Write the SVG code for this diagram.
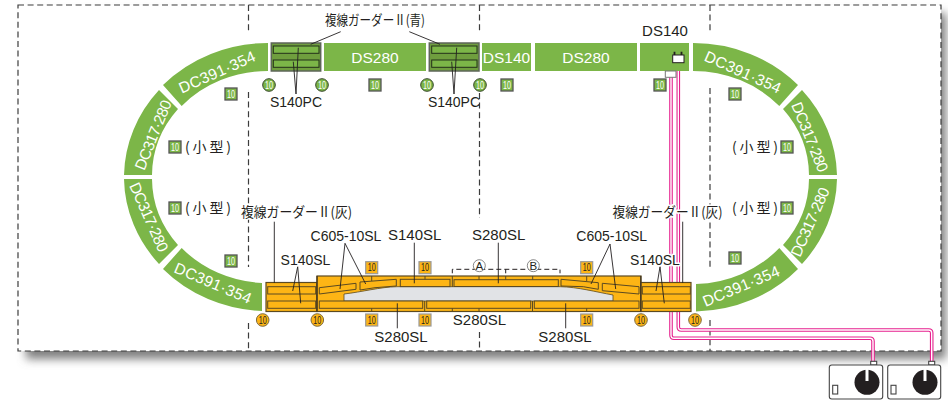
<svg xmlns="http://www.w3.org/2000/svg" width="948" height="401" viewBox="0 0 948 401">
<style>
text{font-family:"Liberation Sans","Noto Sans CJK JP",sans-serif;fill:#231f20;font-size:14px;text-anchor:middle}
.jp{font-family:"Noto Sans CJK JP","Liberation Sans",sans-serif;font-size:14px;paint-order:stroke;stroke:#fff;stroke-width:3px;stroke-linejoin:round}
.lb{paint-order:stroke;stroke:#fff;stroke-width:3px;stroke-linejoin:round}
.big{font-size:15px}
.tr{fill:#7cb648}
.w{fill:#fff;font-size:15.500px;dominant-baseline:central}
.dash{fill:none;stroke:#3c3c3c;stroke-width:1.2;stroke-dasharray:6 3.6}
.lead{fill:none;stroke:#231f20;stroke-width:.9}
.gb{fill:#6f9e3e;stroke:#5d6658;stroke-width:1.5}
.gi{fill:#7cb648;stroke:#23301a;stroke-width:1}
.ob{fill:#fdb515;stroke:#5b4a22;stroke-width:1.2}
.oi{fill:#fdb515;stroke:#5b4a22;stroke-width:1}
.tick{fill:none;stroke:#5b4a22;stroke-width:1}
.pf{fill:#e1e3e6;stroke:#5b4a22;stroke-width:.8}
.wa{fill:none;stroke:#e6218e;stroke-width:3.600}
.wb{fill:none;stroke:#fff;stroke-width:1.400}
.gc{fill:#7cb648;stroke:#35452a;stroke-width:1}
.gs{fill:#7cb648;stroke:#555;stroke-width:1.300}
.oc{fill:#fdb515;stroke:#7d6a40;stroke-width:1}
.os{fill:#fdb515;stroke:#999;stroke-width:1.200}
.n{font-size:10px;dominant-baseline:central}
.nw{fill:#fff}
.ctl{fill:#fff;stroke:#444;stroke-width:1.100}
</style>
<defs>
<filter id="blur" x="-5%" y="-10%" width="110%" height="120%"><feGaussianBlur stdDeviation="5"/></filter>
</defs>

<g id="baseboard">
<rect x="26" y="13" width="920" height="346" fill="#7e7e7e" filter="url(#blur)"/>
<rect x="18" y="5" width="923" height="346" fill="#fff"/>
<rect class="dash" x="18" y="5" width="923" height="346"/>
<path class="dash" d="M248.500 5V32M248.500 92V267M248.500 323V351M479.500 5V33M479.500 93V218M479.500 332V351M710 5V33M710 88V268M710 320V351"/>
</g>

<g id="connectors">
<path class="wa" d="M671 72V335Q671 338.300 674 338.300H870Q873 338.300 873 341.300V362"/>
<path class="wb" d="M671 72V335Q671 338.300 674 338.300H870Q873 338.300 873 341.300V362"/>
<path class="wa" d="M678.300 60V327Q678.300 330 681.300 330H928.700Q931.700 330 931.700 333V362"/>
<path class="wb" d="M678.300 60V327Q678.300 330 681.300 330H928.700Q931.700 330 931.700 333V362"/>
</g>

<g id="curves-left">
<path class="tr" d="M268 43A144 134 0 0 0 163 85L181.700 106A116 106 0 0 1 268 71Z"/>
<path class="tr" d="M159 90A144 134 0 0 0 124 175H152A116 106 0 0 1 178 109Z"/>
<path class="tr" d="M124 179A144 134 0 0 0 159 264L178 245A116 106 0 0 1 152 179Z"/>
<path class="tr" d="M163 269A144 134 0 0 0 262 311V283A116 106 0 0 1 181.700 248Z"/>
<text class="w" textLength="82" transform="translate(217 72) rotate(-24)">DC391·354</text>
<text class="w" textLength="74" transform="translate(153 135) rotate(-68)">DC317·280</text>
<text class="w" textLength="74" transform="translate(149 217) rotate(66)">DC317·280</text>
<text class="w" textLength="82" transform="translate(213 283) rotate(23)">DC391·354</text>
</g>

<g id="curves-right">
<path class="tr" d="M693 43A144 134 0 0 1 798 85L779.300 106A116 106 0 0 0 693 71Z"/>
<path class="tr" d="M802 90A144 134 0 0 1 837 175H809A116 106 0 0 0 783 109Z"/>
<path class="tr" d="M837 179A144 134 0 0 1 802 264L783 245A116 106 0 0 0 809 179Z"/>
<path class="tr" d="M798 269A144 134 0 0 1 696 311.500V284A116 106 0 0 0 779.300 248Z"/>
<text class="w" textLength="82" transform="translate(743 72) rotate(24)">DC391·354</text>
<text class="w" textLength="74" transform="translate(810 137) rotate(68)">DC317·280</text>
<text class="w" textLength="74" transform="translate(810 222) rotate(-66)">DC317·280</text>
<text class="w" textLength="82" transform="translate(741 286) rotate(-23)">DC391·354</text>
</g>

<g id="straights">
<rect class="tr" x="324" y="43" width="102" height="28"/><text class="w" x="375" y="57">DS280</text>
<rect class="tr" x="482" y="43" width="49" height="28"/><text class="w" x="506.500" y="57">DS140</text>
<rect class="tr" x="535" y="43" width="102" height="28"/><text class="w" x="586" y="57">DS280</text>
<rect class="tr" x="640" y="43" width="49" height="28"/>
</g>

<g id="feeder">
<rect x="672.700" y="55" width="11.300" height="7.700" fill="#fff" stroke="#231f20" stroke-width="1"/>
<path d="M674.500 55V51.800M681.500 55V51.800" stroke="#231f20" stroke-width="1.800"/>
<rect x="665.300" y="71" width="10.700" height="6.300" fill="#fff" stroke="#777" stroke-width="1"/>
</g>

<g id="girder-blue-1">
<rect class="gb" x="271.300" y="43" width="49.400" height="28"/>
<rect class="gi" x="273.300" y="46" width="45.700" height="7.300"/>
<rect class="gi" x="273.300" y="60" width="45.700" height="7.300"/>
</g>
<g id="girder-blue-2">
<rect class="gb" x="429.300" y="43" width="49.700" height="28"/>
<rect class="gi" x="431.700" y="46" width="45.300" height="7.300"/>
<rect class="gi" x="431.700" y="60" width="45.300" height="7.300"/>
</g>

<g id="station">
<rect class="ob" x="266" y="282.500" width="51" height="29"/>
<rect class="ob" x="317" y="276" width="324" height="35.500"/>
<rect class="ob" x="641" y="282.500" width="50" height="29"/>
<path class="pf" d="M344 301V294C362 292 380 287 397 286.700H560C578 287 596 292 613 295V301Z"/>
<rect class="oi" x="267.700" y="286.700" width="48" height="7.300"/>
<rect class="oi" x="267.700" y="301" width="48" height="7.300"/>
<rect class="oi" x="319.300" y="301" width="103.400" height="7.300"/>
<rect class="oi" x="426.700" y="301" width="104" height="7.300"/>
<rect class="oi" x="534.300" y="301" width="104.700" height="7.300"/>
<rect class="oi" x="400.300" y="279.300" width="49.700" height="7.300"/>
<rect class="oi" x="454" y="279.700" width="104.300" height="6.800"/>
<rect class="oi" x="642.300" y="286.700" width="48" height="7.300"/>
<rect class="oi" x="642.300" y="301" width="48" height="7.300"/>
<path class="oi" d="M319.300 287.700L356 283.300V289.300L319.300 294ZM360 282L396.300 279.300V286L375 287.700L360 290Z"/>
<path class="oi" d="M561 279.300L598.300 282.700V289.300L583.300 286.700L561 286ZM602.300 283.300L639 286.700V294L602.300 290.700Z"/>
<path class="tick" d="M371.700 276V281M425 276V279.300M452.300 276V287M479 276V279.700M505.700 276V279.700M532.700 276V279.700M586.700 276V281M371.700 308.300V311.500M452.300 308.300V311.500M479 308.300V311.500M586.700 308.300V311.500M424.700 301V311.500M532.500 301V311.500"/>
<path d="M317 276V311.500M640.800 276V311.500" stroke="#3a3020" stroke-width="1.100" fill="none"/>
</g>

<g id="markers">
<g class="m"><circle class="gc" cx="269" cy="85" r="6.300"/><text class="n nw" x="269" y="85" textLength="8" lengthAdjust="spacingAndGlyphs">10</text></g>
<g class="m"><circle class="gc" cx="322" cy="85" r="6.300"/><text class="n nw" x="322" y="85" textLength="8" lengthAdjust="spacingAndGlyphs">10</text></g>
<g class="m"><circle class="gc" cx="427" cy="85" r="6.300"/><text class="n nw" x="427" y="85" textLength="8" lengthAdjust="spacingAndGlyphs">10</text></g>
<g class="m"><circle class="gc" cx="480" cy="85" r="6.300"/><text class="n nw" x="480" y="85" textLength="8" lengthAdjust="spacingAndGlyphs">10</text></g>
<g class="m"><rect class="gs" x="369" y="79" width="12" height="12"/><text class="n nw" x="375" y="85" textLength="8" lengthAdjust="spacingAndGlyphs">10</text></g>
<g class="m"><rect class="gs" x="501" y="79" width="12" height="12"/><text class="n nw" x="507" y="85" textLength="8" lengthAdjust="spacingAndGlyphs">10</text></g>
<g class="m"><rect class="gs" x="654" y="79" width="12" height="12"/><text class="n nw" x="660" y="85" textLength="8" lengthAdjust="spacingAndGlyphs">10</text></g>
<g class="m"><rect class="gs" x="225" y="88" width="12" height="12"/><text class="n nw" x="231" y="94" textLength="8" lengthAdjust="spacingAndGlyphs">10</text></g>
<g class="m"><rect class="gs" x="729" y="88" width="12" height="12"/><text class="n nw" x="735" y="94" textLength="8" lengthAdjust="spacingAndGlyphs">10</text></g>
<g class="m"><rect class="gs" x="169" y="141" width="12" height="12"/><text class="n nw" x="175" y="147" textLength="8" lengthAdjust="spacingAndGlyphs">10</text></g>
<g class="m"><rect class="gs" x="781" y="141" width="12" height="12"/><text class="n nw" x="787" y="147" textLength="8" lengthAdjust="spacingAndGlyphs">10</text></g>
<g class="m"><rect class="gs" x="169" y="202" width="12" height="12"/><text class="n nw" x="175" y="208" textLength="8" lengthAdjust="spacingAndGlyphs">10</text></g>
<g class="m"><rect class="gs" x="781" y="202" width="12" height="12"/><text class="n nw" x="787" y="208" textLength="8" lengthAdjust="spacingAndGlyphs">10</text></g>
<g class="m"><rect class="gs" x="225" y="255" width="12" height="12"/><text class="n nw" x="231" y="261" textLength="8" lengthAdjust="spacingAndGlyphs">10</text></g>
<g class="m"><rect class="gs" x="729" y="252" width="12" height="12"/><text class="n nw" x="735" y="258" textLength="8" lengthAdjust="spacingAndGlyphs">10</text></g>
<g class="m"><circle class="oc" cx="262.700" cy="320" r="6.300"/><text class="n" x="262.700" y="320" textLength="8" lengthAdjust="spacingAndGlyphs">10</text></g>
<g class="m"><circle class="oc" cx="317.300" cy="320" r="6.300"/><text class="n" x="317.300" y="320" textLength="8" lengthAdjust="spacingAndGlyphs">10</text></g>
<g class="m"><circle class="oc" cx="641" cy="320" r="6.300"/><text class="n" x="641" y="320" textLength="8" lengthAdjust="spacingAndGlyphs">10</text></g>
<g class="m"><circle class="oc" cx="695" cy="320" r="6.300"/><text class="n" x="695" y="320" textLength="8" lengthAdjust="spacingAndGlyphs">10</text></g>
<g class="m"><rect class="os" x="365.700" y="261.700" width="12" height="12"/><text class="n" x="371.700" y="267.700" textLength="8" lengthAdjust="spacingAndGlyphs">10</text></g>
<g class="m"><rect class="os" x="419" y="261.700" width="12" height="12"/><text class="n" x="425" y="267.700" textLength="8" lengthAdjust="spacingAndGlyphs">10</text></g>
<g class="m"><rect class="os" x="580.700" y="261.700" width="12" height="12"/><text class="n" x="586.700" y="267.700" textLength="8" lengthAdjust="spacingAndGlyphs">10</text></g>
<g class="m"><rect class="os" x="365.700" y="314" width="12" height="12"/><text class="n" x="371.700" y="320" textLength="8" lengthAdjust="spacingAndGlyphs">10</text></g>
<g class="m"><rect class="os" x="419" y="314" width="12" height="12"/><text class="n" x="425" y="320" textLength="8" lengthAdjust="spacingAndGlyphs">10</text></g>
<g class="m"><rect class="os" x="580.700" y="314" width="12" height="12"/><text class="n" x="586.700" y="320" textLength="8" lengthAdjust="spacingAndGlyphs">10</text></g>
</g>

<g id="section-brackets">
<path fill="none" stroke="#231f20" stroke-width="1" stroke-dasharray="5 3" d="M452.300 273.300V269.300H560V273.300M505.700 269.300V273.300"/>
<circle cx="479.300" cy="265.700" r="6" fill="#fff" stroke="#555" stroke-width=".7"/><text x="479.300" y="270" style="font-size:11.500px">A</text>
<circle cx="533.300" cy="265.700" r="6" fill="#fff" stroke="#555" stroke-width=".7"/><text x="533.300" y="270" style="font-size:11.500px">B</text>
</g>

<g id="leaders">
<path class="lead" d="M340.700 31.700L310.700 44.300M409.300 31.700L440 44.300"/>
<path class="lead" d="M298.300 47.700L296 94L293.300 61.700M456.700 47.700L454 94L451.700 61.700"/>
<path class="lead" d="M274.300 221.700V283M682.700 221.700V283"/>
<path class="lead" d="M292.700 291L297.700 266.700L300.700 303.300"/>
<path class="lead" d="M340 289L345 243.300L365.700 284"/>
<path class="lead" d="M414.300 242.700V283.300M498.300 242.700V283.300"/>
<path class="lead" d="M397.300 303.300V328.300M565.700 303.300V328.300"/>
<path class="lead" d="M591 284L610 244L615.700 289"/>
<path class="lead" d="M656 291L660 266.700L664.300 303.300"/>
</g>

<g id="labels">
<text class="jp" x="375" y="25" textLength="100" lengthAdjust="spacingAndGlyphs">複線ガーダーⅡ(青)</text>
<text x="296" y="107">S140PC</text>
<text x="454" y="107">S140PC</text>
<text class="big" x="665" y="36">DS140</text>
<text class="jp" x="208" y="152" textLength="46">(小型)</text>
<text class="jp" x="755" y="152" textLength="46">(小型)</text>
<text class="jp" x="208" y="213" textLength="46">(小型)</text>
<text class="jp" x="755" y="213" textLength="46">(小型)</text>
<text class="jp" x="296.500" y="217" textLength="111" lengthAdjust="spacingAndGlyphs">複線ガーダーⅡ(灰)</text>
<text class="jp" x="667.500" y="217" textLength="110" lengthAdjust="spacingAndGlyphs">複線ガーダーⅡ(灰)</text>
<text class="lb" x="305.500" y="265">S140SL</text>
<text class="lb" x="655" y="264.500">S140SL</text>
<text x="346" y="241">C605-10SL</text>
<text x="611.700" y="241">C605-10SL</text>
<text class="big" x="414.700" y="240">S140SL</text>
<text class="big" x="498.700" y="240">S280SL</text>
<text class="big" x="479.500" y="325">S280SL</text>
<text class="big" x="401" y="342">S280SL</text>
<text class="big" x="565" y="342">S280SL</text>
</g>

<g id="controller-1">
<rect class="ctl" x="870.700" y="361.300" width="6" height="3.700"/>
<rect class="ctl" x="829.300" y="365" width="53.400" height="34" rx="2.500"/>
<circle cx="867" cy="382.300" r="12.500" fill="#231f20"/>
<rect x="865.500" y="369" width="3" height="12" fill="#fff"/>
<rect class="ctl" x="832.700" y="385.300" width="5" height="8.700"/>
</g>
<g id="controller-2">
<rect class="ctl" x="928.700" y="361.300" width="6" height="3.700"/>
<rect class="ctl" x="887.700" y="365" width="53" height="34" rx="2.500"/>
<circle cx="925" cy="382.300" r="12.500" fill="#231f20"/>
<rect x="923.500" y="369" width="3" height="12" fill="#fff"/>
<rect class="ctl" x="891" y="385.300" width="5" height="8.700"/>
</g>
</svg>
